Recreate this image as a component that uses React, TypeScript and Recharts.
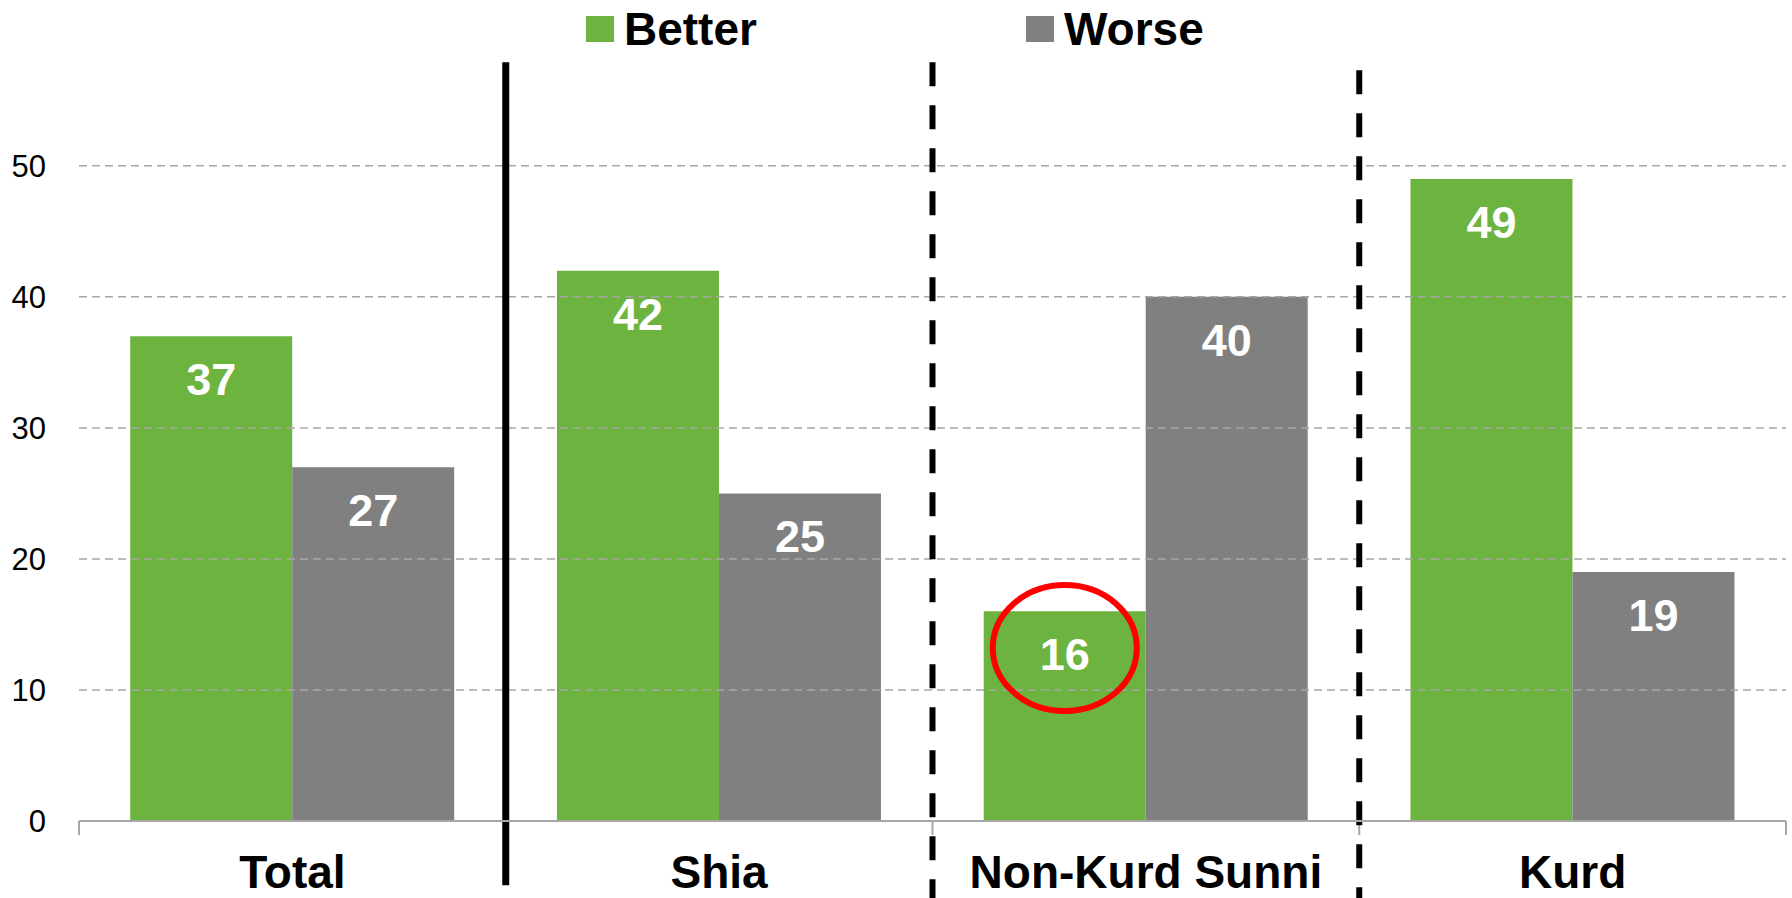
import { BarChart, Bar, XAxis, YAxis, Legend, LabelList, ReferenceLine, ReferenceDot } from 'recharts';

const categories = ['Total', 'Shia', 'Non-Kurd Sunni', 'Kurd'];
const better = [37, 42, 16, 49];
const worse = [27, 25, 40, 19];
const yTicks = [0, 10, 20, 30, 40, 50];

// group boundaries on a 0..4 helper scale (one unit per category)
const boundaries = [0, 1, 2, 3, 4];
const separators = [
  { at: 1, dashed: false, top: 57.9, bottom: -4.9 },
  { at: 2, dashed: true, top: 57.9, bottom: -5.9 },
  { at: 3, dashed: true, top: 57.3, bottom: -5.9 },
];
// red ring around the Non-Kurd Sunni "Better" value
const highlight = { at: 2.31, value: 13.2 };

const GREEN = '#6db33f';
const GRAY = '#808080';
const GRID = '#a6a6a6';
const FONT = '"Liberation Sans", Arial, sans-serif';

const data = categories.map((name, i) => ({ name, slot: i + 0.5, better: better[i], worse: worse[i] }));

const legendItems = [
  { label: 'Better', color: GREEN, left: 586 },
  { label: 'Worse', color: GRAY, left: 1026 },
];

const renderLegend = () => (
  <div style={{ position: 'relative', width: 1792, height: 56 }}>
    {legendItems.map((it) => (
      <div
        key={it.label}
        style={{ position: 'absolute', left: it.left, top: 0, height: 58, display: 'flex', alignItems: 'center' }}
      >
        <span style={{ display: 'inline-block', width: 28, height: 26, background: it.color, marginRight: 10 }} />
        <span style={{ fontSize: 46, fontWeight: 'bold', color: '#000', lineHeight: '48px' }}>{it.label}</span>
      </div>
    ))}
  </div>
);

const CategoryTick = ({ x, y, payload }: any) => (
  <text x={x} y={y + 67} textAnchor="middle" fontSize={46} fontWeight="bold" fill="#000">
    {payload.value}
  </text>
);

export default function App() {
  return (
    <div style={{ position: 'absolute', left: 0, top: 0, fontFamily: FONT, background: '#fff' }}>
      <BarChart
        width={1792}
        height={898}
        data={data}
        margin={{ top: 5, right: 6, bottom: 0, left: 0 }}
        barCategoryGap="12%"
        barGap={0}
      >
        <XAxis
          dataKey="name"
          height={77}
          axisLine={{ stroke: GRID, strokeWidth: 2 }}
          tickLine={false}
          tickSize={0}
          tickMargin={0}
          tick={<CategoryTick />}
          interval={0}
        />
        <XAxis xAxisId="sep" dataKey="slot" type="number" domain={[0, 4]} allowDataOverflow hide />
        <YAxis
          width={79}
          domain={[0, 58]}
          ticks={yTicks}
          allowDataOverflow
          axisLine={false}
          tickLine={false}
          tickSize={0}
          tickMargin={33}
          tick={{ fontSize: 31, fill: '#000' }}
        />
        {yTicks
          .filter((t) => t > 0)
          .map((t) => (
            <ReferenceLine key={`grid-${t}`} y={t} stroke={GRID} strokeWidth={1.5} strokeDasharray="8 5" />
          ))}
        <Legend verticalAlign="top" align="left" wrapperStyle={{ left: 0, top: 0, width: 1792 }} content={renderLegend} />
        <Bar dataKey="better" name="Better" fill={GREEN} isAnimationActive={false}>
          <LabelList dataKey="better" position="insideTop" offset={27} fill="#fff" fontSize={45} fontWeight="bold" />
        </Bar>
        <Bar dataKey="worse" name="Worse" fill={GRAY} isAnimationActive={false}>
          <LabelList dataKey="worse" position="insideTop" offset={27} fill="#fff" fontSize={45} fontWeight="bold" />
        </Bar>
        {boundaries.map((b) => (
          <ReferenceLine
            key={`tick-${b}`}
            xAxisId="sep"
            ifOverflow="visible"
            segment={[{ x: b, y: 0 }, { x: b, y: -1.07 }]}
            stroke={GRID}
            strokeWidth={2}
          />
        ))}
        {separators.map((s) => (
          <ReferenceLine
            key={`sep-${s.at}`}
            xAxisId="sep"
            ifOverflow="visible"
            segment={[{ x: s.at, y: s.top }, { x: s.at, y: s.bottom }]}
            stroke="#000"
            strokeWidth={s.dashed ? 6 : 7}
            strokeDasharray={s.dashed ? '24 19' : undefined}
          />
        ))}
        <ReferenceDot
          xAxisId="sep"
          x={highlight.at}
          y={highlight.value}
          ifOverflow="visible"
          shape={(p: any) => (
            <ellipse cx={p.cx} cy={p.cy} rx={72} ry={63} fill="none" stroke="#ff0000" strokeWidth={6} />
          )}
        />
      </BarChart>
    </div>
  );
}
